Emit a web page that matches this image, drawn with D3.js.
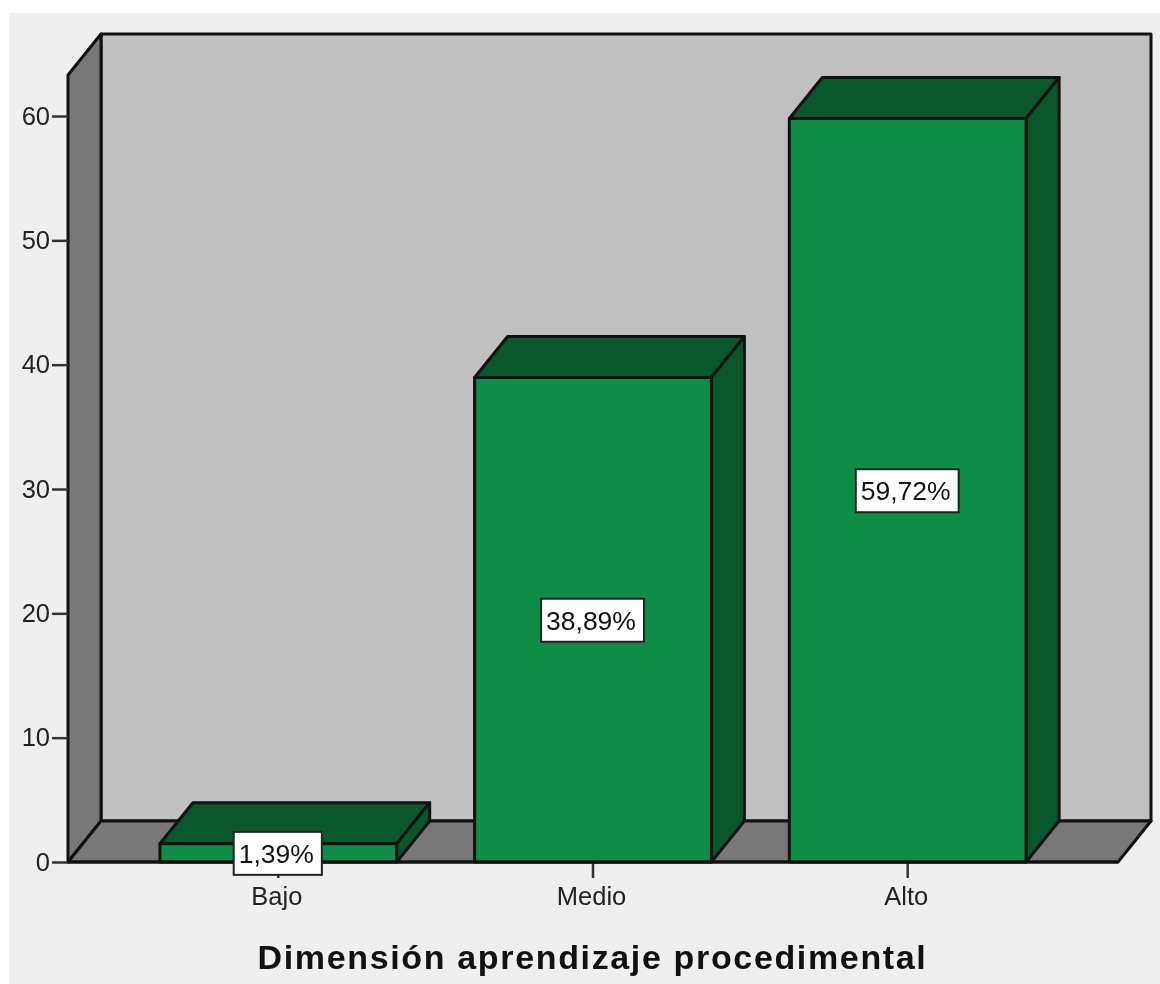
<!DOCTYPE html>
<html><head><meta charset="utf-8">
<script src="https://cdn.jsdelivr.net/npm/d3@7/dist/d3.min.js"></script>
<style>html,body{margin:0;padding:0;background:#fff}svg{display:block}</style>
</head><body><div id="c"></div>
<script>
const categories = ["Bajo","Medio","Alto"];
const values = [1.39,38.89,59.72];
const valueLabels = ["1,39%","38,89%","59,72%"];
const yTicks = [0,10,20,30,40,50,60];
const axisTitle = "Dimensión aprendizaje procedimental";
const axisMax = 63.3;

const W=1160,H=984, L=68,R=1118,B=862,T=75, dx=33,dy=-41;
const C={bg:"#efefef",wall:"#c0c0c0",side:"#787878",front:"#0f8c47",dark:"#0a572b",ink:"#111"};
const svg=d3.select("#c").append("svg").attr("width",W).attr("height",H);
svg.append("rect").attr("x",9).attr("y",13).attr("width",W-9).attr("height",H-13).attr("fill",C.bg);
const g=svg.append("g").style("filter","blur(0.6px)");
const x=d3.scaleBand().domain(categories).range([L,R]).paddingInner(0.2476).paddingOuter(0.292);
const y=d3.scaleLinear().domain([0,axisMax]).range([B,T]);
const poly=(pts,fill,sw=3)=>g.append("polygon").attr("points",pts.map(p=>p.join(",")).join(" "))
  .attr("fill",fill).attr("stroke",C.ink).attr("stroke-width",sw).attr("stroke-linejoin","round");
// walls
poly([[L+dx,T+dy],[R+dx,T+dy],[R+dx,B+dy],[L+dx,B+dy]],C.wall,3);
poly([[L,T],[L+dx,T+dy],[L+dx,B+dy],[L,B]],C.side);
poly([[L,B],[L+dx,B+dy],[R+dx,B+dy],[R,B]],C.side);
// axes
const font="'Liberation Sans',Arial,sans-serif";
const yAxis=g.append("g").attr("transform",`translate(${L},0)`).call(d3.axisLeft(y).tickValues(yTicks).tickSize(16).tickPadding(2));
const xAxis=g.append("g").attr("transform",`translate(0,${B})`).call(d3.axisBottom(x).tickSize(16).tickPadding(9));
[yAxis,xAxis].forEach(a=>{a.select(".domain").remove();
  a.selectAll("line").attr("stroke","#333").attr("stroke-width",2.5);
  a.selectAll("text").attr("font-family",font).attr("font-size",25.5).attr("fill","#222");});
xAxis.selectAll("text").attr("dx",-1.5);
// bars
categories.forEach((c,i)=>{
  const x0=x(c),x1=x0+x.bandwidth(),yt=y(values[i])-1;
  poly([[x0,yt],[x0+dx,yt+dy],[x1+dx,yt+dy],[x1,yt]],C.dark);
  poly([[x1,yt],[x1+dx,yt+dy],[x1+dx,B+dy],[x1,B]],C.dark);
  poly([[x0,yt],[x1,yt],[x1,B],[x0,B]],C.front);
});
g.append("line").attr("x1",L).attr("x2",R).attr("y1",B).attr("y2",B).attr("stroke",C.ink).attr("stroke-width",3);
// value labels
categories.forEach((c,i)=>{
  const cx=x(c)+x.bandwidth()/2-0.5, cy=y(values[i]/2);
  const box=g.append("rect");
  const t=g.append("text").attr("x",cx-1.5).attr("y",cy).attr("dy","0.35em").attr("text-anchor","middle")
    .attr("font-family",font).attr("font-size",26.5).attr("fill","#111").text(valueLabels[i]);
  const w=t.node().getComputedTextLength()+13;
  box.attr("x",cx-w/2).attr("y",cy-21.5).attr("width",w).attr("height",43)
    .attr("fill","#fff").attr("stroke","#222").attr("stroke-width",2);
});
g.append("text").attr("x",592.5).attr("y",968.5).attr("text-anchor","middle")
  .attr("font-family",font).attr("font-weight","bold").attr("font-size",34).attr("letter-spacing",1.65)
  .attr("fill","#111").text(axisTitle);
</script></body></html>
